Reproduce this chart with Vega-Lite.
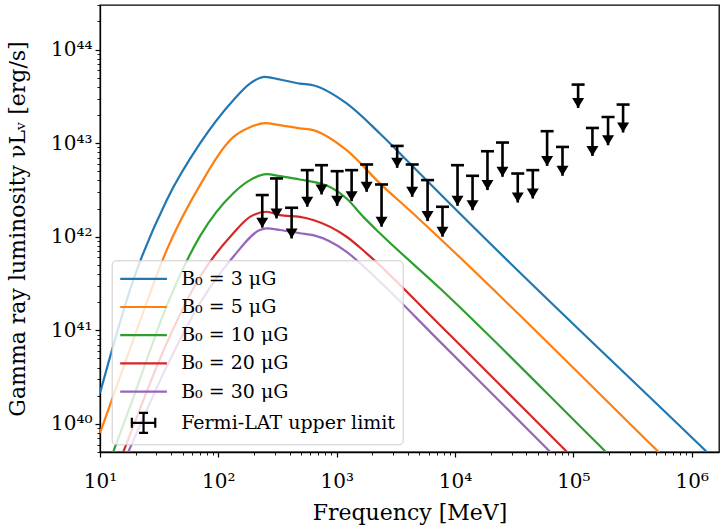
{
  "$schema": "https://vega.github.io/schema/vega-lite/v6.json",
  "width": 619,
  "height": 447,
  "autosize": {"type": "none"},
  "padding": {"left": 100, "top": 5, "right": 2, "bottom": 75},
  "background": "white",
  "config": {
    "view": {"stroke": "black", "strokeWidth": 1.3},
    "font": "DejaVu Serif",
    "axis": {
      "domainColor": "black", "domainWidth": 1.3, "tickColor": "black", "tickWidth": 1.2,
      "labelFont": "DejaVu Serif", "titleFont": "DejaVu Serif",
      "labelColor": "black", "titleColor": "black", "titleFontWeight": "normal",
      "grid": false
    },
    "legend": {"labelFont": "DejaVu Serif", "labelColor": "black"}
  },
  "resolve": {"axis": {"x": "independent", "y": "independent"}},
  "datasets": {
    "curves": [
      {"series": "B₀ = 3 μG", "E": 10, "L": 2.13e40},
      {"series": "B₀ = 3 μG", "E": 19.1, "L": 3.44e41},
      {"series": "B₀ = 3 μG", "E": 36.6, "L": 2.46e42},
      {"series": "B₀ = 3 μG", "E": 70.0, "L": 9.93e42},
      {"series": "B₀ = 3 μG", "E": 133.7, "L": 2.88e43},
      {"series": "B₀ = 3 μG", "E": 184.9, "L": 4.34e43},
      {"series": "B₀ = 3 μG", "E": 247.7, "L": 5.11e43},
      {"series": "B₀ = 3 μG", "E": 331.1, "L": 4.79e43},
      {"series": "B₀ = 3 μG", "E": 488.7, "L": 4.34e43},
      {"series": "B₀ = 3 μG", "E": 632.4, "L": 4.16e43},
      {"series": "B₀ = 3 μG", "E": 1213, "L": 2.66e43},
      {"series": "B₀ = 3 μG", "E": 2317, "L": 1.27e43},
      {"series": "B₀ = 3 μG", "E": 4426, "L": 5.59e42},
      {"series": "B₀ = 3 μG", "E": 8472, "L": 2.46e42},
      {"series": "B₀ = 3 μG", "E": 16180, "L": 1.09e42},
      {"series": "B₀ = 3 μG", "E": 1330000, "L": 5.06e39},
      {"series": "B₀ = 3 μG", "E": 2000000, "L": 3.07e39},

      {"series": "B₀ = 5 μG", "E": 10, "L": 7.96e39},
      {"series": "B₀ = 5 μG", "E": 19.1, "L": 7.89e40},
      {"series": "B₀ = 5 μG", "E": 36.6, "L": 7.19e41},
      {"series": "B₀ = 5 μG", "E": 70.0, "L": 3.56e42},
      {"series": "B₀ = 5 μG", "E": 133.7, "L": 1.16e43},
      {"series": "B₀ = 5 μG", "E": 184.9, "L": 1.48e43},
      {"series": "B₀ = 5 μG", "E": 247.7, "L": 1.64e43},
      {"series": "B₀ = 5 μG", "E": 331.1, "L": 1.56e43},
      {"series": "B₀ = 5 μG", "E": 488.7, "L": 1.44e43},
      {"series": "B₀ = 5 μG", "E": 632.4, "L": 1.38e43},
      {"series": "B₀ = 5 μG", "E": 1213, "L": 8.41e42},
      {"series": "B₀ = 5 μG", "E": 2317, "L": 3.72e42},
      {"series": "B₀ = 5 μG", "E": 4426, "L": 1.77e42},
      {"series": "B₀ = 5 μG", "E": 7447, "L": 9.59e41},
      {"series": "B₀ = 5 μG", "E": 520000, "L": 5.06e39},
      {"series": "B₀ = 5 μG", "E": 1000000, "L": 2.25e39},

      {"series": "B₀ = 10 μG", "E": 10, "L": 2.07e39},
      {"series": "B₀ = 10 μG", "E": 12.94, "L": 5.02e39},
      {"series": "B₀ = 10 μG", "E": 19.1, "L": 1.90e40},
      {"series": "B₀ = 10 μG", "E": 36.6, "L": 1.82e41},
      {"series": "B₀ = 10 μG", "E": 70.0, "L": 1.016e42},
      {"series": "B₀ = 10 μG", "E": 133.7, "L": 2.92e42},
      {"series": "B₀ = 10 μG", "E": 184.9, "L": 4.03e42},
      {"series": "B₀ = 10 μG", "E": 255.9, "L": 4.67e42},
      {"series": "B₀ = 10 μG", "E": 331.1, "L": 4.44e42},
      {"series": "B₀ = 10 μG", "E": 488.7, "L": 4.09e42},
      {"series": "B₀ = 10 μG", "E": 877, "L": 3.41e42},
      {"series": "B₀ = 10 μG", "E": 1213, "L": 2.56e42},
      {"series": "B₀ = 10 μG", "E": 1679, "L": 1.63e42},
      {"series": "B₀ = 10 μG", "E": 2317, "L": 1.09e42},
      {"series": "B₀ = 10 μG", "E": 7447, "L": 2.81e41},
      {"series": "B₀ = 10 μG", "E": 186600, "L": 5.06e39},
      {"series": "B₀ = 10 μG", "E": 398000, "L": 1.97e39},

      {"series": "B₀ = 20 μG", "E": 12.59, "L": 2.46e39},
      {"series": "B₀ = 20 μG", "E": 15.74, "L": 5.02e39},
      {"series": "B₀ = 20 μG", "E": 36.6, "L": 7.26e40},
      {"series": "B₀ = 20 μG", "E": 70.0, "L": 3.73e41},
      {"series": "B₀ = 20 μG", "E": 133.7, "L": 1.09e42},
      {"series": "B₀ = 20 μG", "E": 184.9, "L": 1.63e42},
      {"series": "B₀ = 20 μG", "E": 255.9, "L": 1.85e42},
      {"series": "B₀ = 20 μG", "E": 331.1, "L": 1.70e42},
      {"series": "B₀ = 20 μG", "E": 488.7, "L": 1.63e42},
      {"series": "B₀ = 20 μG", "E": 632.4, "L": 1.51e42},
      {"series": "B₀ = 20 μG", "E": 1213, "L": 1.00e42},
      {"series": "B₀ = 20 μG", "E": 1791, "L": 6.64e41},
      {"series": "B₀ = 20 μG", "E": 7447, "L": 1.14e41},
      {"series": "B₀ = 20 μG", "E": 87500, "L": 5.06e39},
      {"series": "B₀ = 20 μG", "E": 158500, "L": 2.39e39},

      {"series": "B₀ = 30 μG", "E": 14.13, "L": 2.82e39},
      {"series": "B₀ = 30 μG", "E": 17.34, "L": 5.02e39},
      {"series": "B₀ = 30 μG", "E": 36.6, "L": 4.09e40},
      {"series": "B₀ = 30 μG", "E": 70.0, "L": 1.95e41},
      {"series": "B₀ = 30 μG", "E": 133.7, "L": 6.11e41},
      {"series": "B₀ = 30 μG", "E": 224.4, "L": 1.18e42},
      {"series": "B₀ = 30 μG", "E": 255.9, "L": 1.23e42},
      {"series": "B₀ = 30 μG", "E": 331.1, "L": 1.18e42},
      {"series": "B₀ = 30 μG", "E": 488.7, "L": 1.09e42},
      {"series": "B₀ = 30 μG", "E": 632.4, "L": 1.04e42},
      {"series": "B₀ = 30 μG", "E": 1213, "L": 6.90e41},
      {"series": "B₀ = 30 μG", "E": 1791, "L": 4.49e41},
      {"series": "B₀ = 30 μG", "E": 7447, "L": 7.57e40},
      {"series": "B₀ = 30 μG", "E": 63200, "L": 5.06e39},
      {"series": "B₀ = 30 μG", "E": 126000, "L": 2.12e39}
    ],
    "limits": [
      {"E": 235, "top": 2.79e42, "tip": 1.25e42},
      {"E": 310, "top": 4.20e42, "tip": 1.57e42},
      {"E": 416, "top": 2.04e42, "tip": 9.59e41},
      {"E": 564, "top": 5.15e42, "tip": 2.09e42},
      {"E": 745, "top": 5.82e42, "tip": 2.83e42},
      {"E": 1009, "top": 5.02e42, "tip": 2.14e42},
      {"E": 1337, "top": 5.15e42, "tip": 2.40e42},
      {"E": 1791, "top": 5.92e42, "tip": 3.02e42},
      {"E": 2393, "top": 3.62e42, "tip": 1.28e42},
      {"E": 3243, "top": 9.35e42, "tip": 5.45e42},
      {"E": 4345, "top": 5.92e42, "tip": 2.67e42},
      {"E": 5861, "top": 4.03e42, "tip": 1.47e42},
      {"E": 7834, "top": 2.09e42, "tip": 1.00e42},
      {"E": 10495, "top": 5.82e42, "tip": 2.14e42},
      {"E": 14060, "top": 4.48e42, "tip": 1.92e42},
      {"E": 18793, "top": 8.20e42, "tip": 3.15e42},
      {"E": 25177, "top": 1.016e43, "tip": 4.37e42},
      {"E": 33884, "top": 4.74e42, "tip": 2.32e42},
      {"E": 45394, "top": 5.15e42, "tip": 2.56e42},
      {"E": 59980, "top": 1.343e43, "tip": 5.72e42},
      {"E": 80910, "top": 9.12e42, "tip": 4.48e42},
      {"E": 109648, "top": 4.23e43, "tip": 2.38e43},
      {"E": 144877, "top": 1.455e43, "tip": 7.31e42},
      {"E": 196336, "top": 1.905e43, "tip": 9.51e42},
      {"E": 263027, "top": 2.588e43, "tip": 1.30e43}
    ]
  },
  "layer": [
    {
      "data": {"name": "curves"},
      "mark": {"type": "line", "strokeWidth": 2.2, "clip": true, "interpolate": "monotone"},
      "encoding": {
        "x": {
          "field": "E", "type": "quantitative",
          "scale": {"type": "log", "domain": [10, 1700000], "nice": false},
          "axis": {
            "orient": "bottom",
            "title": "Frequency [MeV]", "titleFontSize": 22, "labelFontSize": 20,
            "values": [10, 100, 1000, 10000, 100000, 1000000],
            "tickSize": 5, "labelPadding": 14, "titlePadding": 11, "labelFlush": false,
            "labelExpr": "'10' + (round(log(datum.value)/LN10) >= 10 ? substring('⁰¹²³⁴⁵⁶⁷⁸⁹', floor(round(log(datum.value)/LN10)/10), floor(round(log(datum.value)/LN10)/10)+1) : '') + substring('⁰¹²³⁴⁵⁶⁷⁸⁹', round(log(datum.value)/LN10)%10, round(log(datum.value)/LN10)%10+1)"
          }
        },
        "y": {
          "field": "L", "type": "quantitative",
          "scale": {"type": "log", "domain": [5e39, 3e44], "nice": false},
          "axis": {
            "orient": "left",
            "title": "Gamma ray luminosity   νLᵥ  [erg/s]", "titleFontSize": 22, "labelFontSize": 20,
            "values": [1e40, 1e41, 1e42, 1e43, 1e44],
            "tickSize": 5, "labelPadding": 3, "titleX": -71, "labelFlush": false,
            "labelExpr": "'10' + (round(log(datum.value)/LN10) >= 10 ? substring('⁰¹²³⁴⁵⁶⁷⁸⁹', floor(round(log(datum.value)/LN10)/10), floor(round(log(datum.value)/LN10)/10)+1) : '') + substring('⁰¹²³⁴⁵⁶⁷⁸⁹', round(log(datum.value)/LN10)%10, round(log(datum.value)/LN10)%10+1)"
          }
        },
        "color": {
          "field": "series", "type": "nominal",
          "scale": {
            "domain": ["B₀ = 3 μG", "B₀ = 5 μG", "B₀ = 10 μG", "B₀ = 20 μG", "B₀ = 30 μG", "Fermi-LAT upper limit"],
            "range": ["#1f77b4", "#ff7f0e", "#2ca02c", "#d62728", "#9467bd", "#000000"]
          },
          "legend": {
            "title": null, "orient": "none", "legendX": 11.7, "legendY": 255.3,
            "symbolType": "stroke", "symbolSize": 400, "symbolStrokeWidth": 2.2, "symbolOffset": 13.35,
            "labelFontSize": 19, "labelOffset": 26.1, "labelLimit": 400,
            "fillColor": "rgba(255,255,255,0.8)", "strokeColor": "#cccccc", "cornerRadius": 4,
            "padding": 7, "rowPadding": 6.2,
            "encode": {
              "symbols": {
                "update": {
                  "shape": {"signal": "datum.value === 'Fermi-LAT upper limit' ? 'M-1.17,0L1.17,0M0,-1L0,1M-1.17,-0.5L-1.17,0.5M1.17,-0.5L1.17,0.5M-0.45,-1L0.45,-1M-0.45,1L0.45,1' : 'M-2.335,0L2.335,0'"}
                }
              }
            }
          }
        }
      }
    },
    {
      "data": {"name": "limits"},
      "mark": {"type": "rule", "color": "black", "strokeWidth": 2.6},
      "encoding": {
        "x": {
          "field": "E", "type": "quantitative",
          "axis": {
            "orient": "bottom", "title": null, "labels": false, "domain": false, "tickSize": 3, "tickWidth": 0.9,
            "values": [20, 30, 40, 50, 60, 70, 80, 90, 200, 300, 400, 500, 600, 700, 800, 900, 2000, 3000, 4000, 5000, 6000, 7000, 8000, 9000, 20000, 30000, 40000, 50000, 60000, 70000, 80000, 90000, 200000, 300000, 400000, 500000, 600000, 700000, 800000, 900000]
          }
        },
        "y": {
          "field": "top", "type": "quantitative",
          "axis": {
            "orient": "left", "title": null, "labels": false, "domain": false, "tickSize": 3, "tickWidth": 0.9,
            "values": [5e39, 6e39, 7e39, 8e39, 9e39, 2e40, 3e40, 4e40, 5e40, 6e40, 7e40, 8e40, 9e40, 2e41, 3e41, 4e41, 5e41, 6e41, 7e41, 8e41, 9e41, 2e42, 3e42, 4e42, 5e42, 6e42, 7e42, 8e42, 9e42, 2e43, 3e43, 4e43, 5e43, 6e43, 7e43, 8e43, 9e43, 2e44, 3e44]
          }
        },
        "y2": {"field": "tip"}
      }
    },
    {
      "data": {"name": "limits"},
      "mark": {"type": "tick", "orient": "horizontal", "color": "black", "size": 13, "thickness": 2.6, "opacity": 1},
      "encoding": {
        "x": {"field": "E", "type": "quantitative", "axis": null},
        "y": {"field": "top", "type": "quantitative", "axis": null}
      }
    },
    {
      "data": {"name": "limits"},
      "mark": {"type": "point", "filled": true, "color": "black", "opacity": 1, "size": 144, "shape": "M-1,-1.667L1,-1.667L0,0Z"},
      "encoding": {
        "x": {"field": "E", "type": "quantitative", "axis": null},
        "y": {"field": "tip", "type": "quantitative", "axis": null}
      }
    }
  ]
}
